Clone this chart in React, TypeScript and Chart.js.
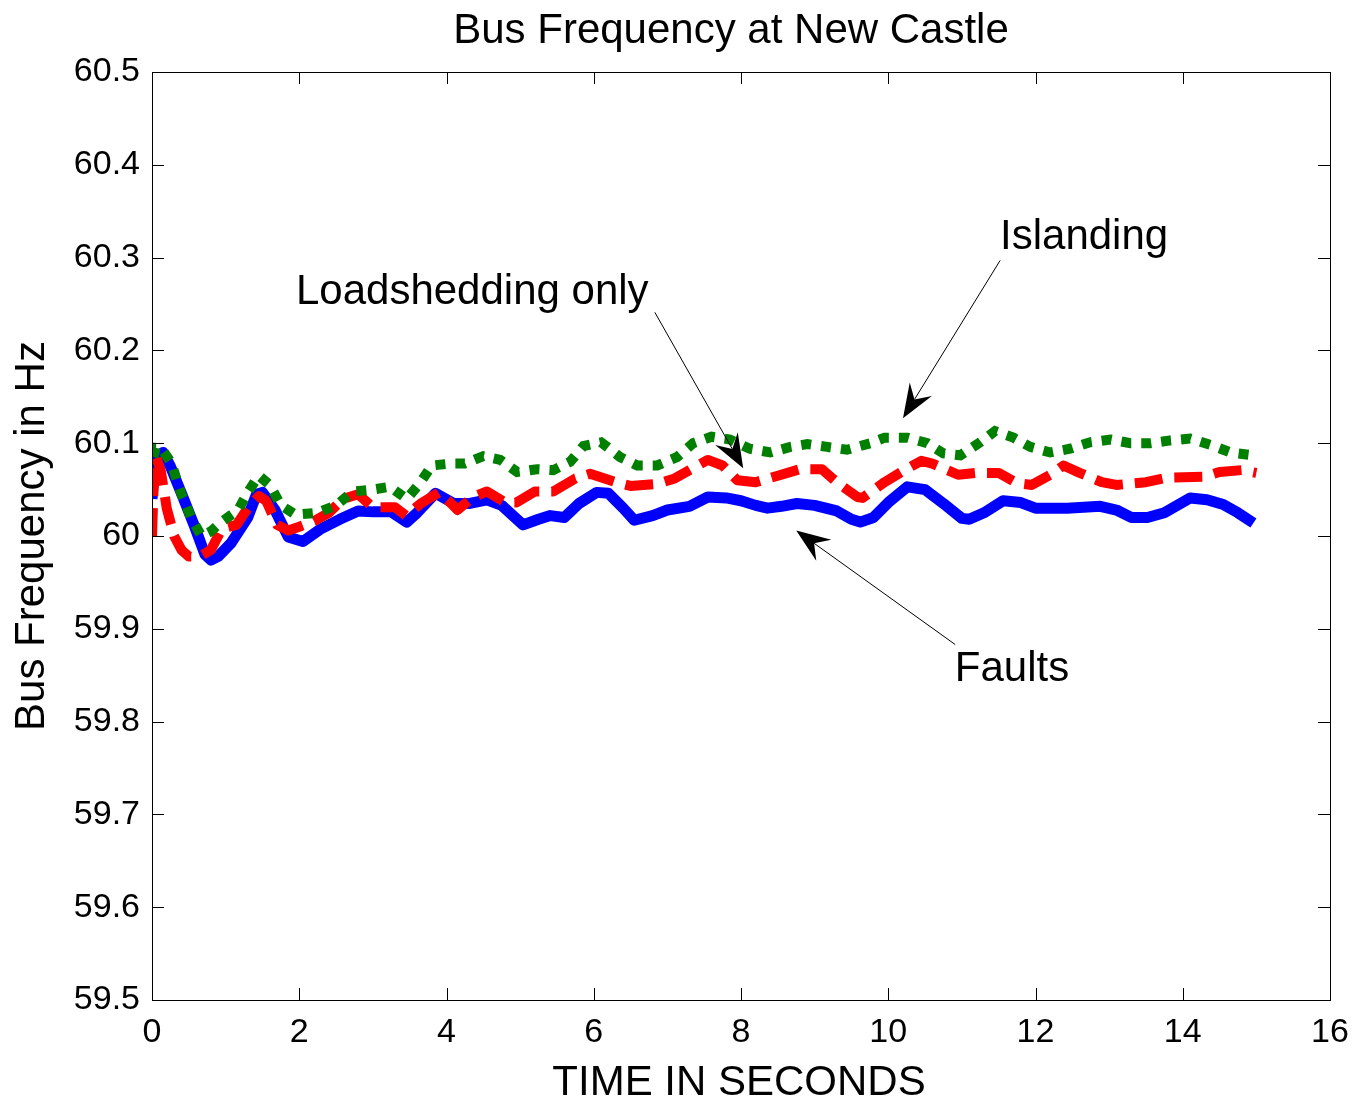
import React, { useEffect, useRef } from "react";
import { Chart, registerables } from "chart.js";

Chart.register(...registerables);

const xTicks = [0, 2, 4, 6, 8, 10, 12, 14, 16];
const yTicks = [59.5, 59.6, 59.7, 59.8, 59.9, 60.0, 60.1, 60.2, 60.3, 60.4, 60.5];

const faultsT = [0, 0.05, 0.15, 0.25, 0.4, 0.58, 0.72, 0.8, 0.9, 1.07, 1.3, 1.42, 1.5, 1.67, 1.85, 2.05, 2.3, 2.55, 2.8, 3.0, 3.25, 3.46, 3.6, 3.85, 4.1, 4.3, 4.55, 4.75, 5.04, 5.25, 5.41, 5.6, 5.8, 6.04, 6.2, 6.4, 6.55, 6.8, 7.0, 7.3, 7.55, 7.8, 8.0, 8.2, 8.36, 8.55, 8.76, 9.0, 9.3, 9.5, 9.62, 9.8, 10.0, 10.26, 10.5, 10.75, 11.0, 11.1, 11.3, 11.56, 11.8, 12.0, 12.43, 12.88, 13.1, 13.3, 13.52, 13.75, 14.1, 14.33, 14.55, 14.75, 14.96];
const faultsF = [60.04, 60.085, 60.09, 60.075, 60.046, 60.01, 59.98, 59.974, 59.978, 59.992, 60.02, 60.045, 60.047, 60.028, 59.999, 59.994, 60.008, 60.018, 60.027, 60.026, 60.026, 60.015, 60.025, 60.046, 60.035, 60.035, 60.039, 60.033, 60.012, 60.018, 60.022, 60.02, 60.035, 60.047, 60.046, 60.03, 60.017, 60.022, 60.028, 60.032, 60.042, 60.041, 60.038, 60.033, 60.03, 60.032, 60.035, 60.033, 60.027, 60.018, 60.015, 60.02, 60.036, 60.053, 60.05, 60.035, 60.019, 60.018, 60.025, 60.038, 60.036, 60.03, 60.03, 60.032, 60.028, 60.02, 60.02, 60.025, 60.041, 60.039, 60.034, 60.025, 60.014];

const loadT = [0, 0.02, 0.06, 0.12, 0.2, 0.3, 0.4, 0.5, 0.65, 0.8, 0.95, 1.15, 1.3, 1.45, 1.55, 1.7, 1.85, 2.0, 2.2, 2.4, 2.6, 2.8, 3.0, 3.3, 3.45, 3.65, 3.9, 4.05, 4.15, 4.36, 4.55, 4.8, 4.95, 5.2, 5.45, 5.75, 5.95, 6.3, 6.5, 6.85, 7.1, 7.3, 7.55, 7.75, 7.95, 8.2, 8.5, 8.8, 9.1, 9.3, 9.58, 9.65, 9.95, 10.2, 10.45, 10.6, 10.95, 11.2, 11.5, 11.75, 11.95, 12.2, 12.38, 12.6, 12.9, 13.1, 13.5, 13.8, 14.3, 14.5, 14.8, 15.0];
const loadF = [60.0, 60.05, 60.085, 60.07, 60.03, 60.0, 59.985, 59.978, 59.978, 59.985, 60.008, 60.012, 60.03, 60.043, 60.038, 60.012, 60.006, 60.01, 60.016, 60.025, 60.04, 60.045, 60.031, 60.031, 60.022, 60.035, 60.047, 60.036, 60.028, 60.042, 60.048, 60.036, 60.036, 60.048, 60.048, 60.062, 60.067, 60.058, 60.054, 60.056, 60.062, 60.071, 60.082, 60.076, 60.06, 60.058, 60.065, 60.072, 60.072, 60.058, 60.042, 60.041, 60.058, 60.07, 60.081, 60.078, 60.066, 60.068, 60.068, 60.057, 60.055, 60.066, 60.076, 60.068, 60.058, 60.055, 60.058, 60.063, 60.064, 60.069, 60.071, 60.068];

const islandT = [0.02, 0.05, 0.12, 0.26, 0.4, 0.53, 0.67, 0.8, 0.94, 1.17, 1.3, 1.45, 1.6, 1.75, 1.95, 2.24, 2.5, 2.73, 3.0, 3.23, 3.46, 3.64, 3.8, 4.05, 4.25, 4.5, 4.73, 4.96, 5.23, 5.45, 5.68, 5.86, 6.1, 6.36, 6.59, 6.86, 7.13, 7.35, 7.6, 7.85, 8.12, 8.4, 8.67, 8.9, 9.17, 9.44, 9.76, 9.95, 10.26, 10.53, 10.75, 10.98, 11.25, 11.45, 11.7, 11.93, 12.2, 12.47, 12.74, 13.02, 13.29, 13.56, 13.83, 14.1, 14.38, 14.65, 14.95];
const islandF = [60.085, 60.095, 60.095, 60.079, 60.045, 60.02, 60.0, 60.005, 60.015, 60.028, 60.047, 60.065, 60.055, 60.033, 60.023, 60.025, 60.033, 60.048, 60.05, 60.053, 60.04, 60.057, 60.076, 60.078, 60.078, 60.086, 60.082, 60.069, 60.072, 60.071, 60.08, 60.097, 60.101, 60.085, 60.076, 60.076, 60.085, 60.1, 60.107, 60.104, 60.094, 60.09, 60.096, 60.099, 60.096, 60.093, 60.1, 60.106, 60.106, 60.1, 60.089, 60.087, 60.101, 60.113, 60.106, 60.096, 60.09, 60.094, 60.101, 60.104, 60.1, 60.1, 60.103, 60.105, 60.098, 60.09, 60.087];

const titleText = "Bus Frequency at New Castle";
const xTitle = "TIME IN SECONDS";
const yTitle = "Bus Frequency in Hz";

// annotation: label, label position (t, f), arrow tail (t, f), arrow head (t, f)
const annLabels = ["Islanding", "Loadshedding only", "Faults"];
const annLabelPos = [[12.66, 60.322], [4.35, 60.263], [11.68, 59.856]];
const annTail = [[11.52, 60.297], [6.83, 60.241], [10.91, 59.883]];
const annHead = [[10.2, 60.127], [8.03, 60.073], [8.75, 60.006]];

const FONT = "'Liberation Sans', Arial, Helvetica, sans-serif";

const zip = (t: number[], f: number[]) => t.map((x, i) => ({ x, y: f[i] }));

const framePlugin = {
  id: "matlabFrame",
  afterDraw(chart: any) {
    const { ctx, chartArea: a, scales } = chart;
    const xs = scales.x, ys = scales.y;
    ctx.save();
    ctx.strokeStyle = "#000";
    ctx.lineWidth = 1;
    ctx.strokeRect(a.left + 0.5, a.top + 0.5, a.right - a.left, a.bottom - a.top);
    const tl = 12;
    ctx.beginPath();
    xTicks.forEach((v) => {
      const px = Math.round(xs.getPixelForValue(v)) + 0.5;
      ctx.moveTo(px, a.bottom); ctx.lineTo(px, a.bottom - tl);
      ctx.moveTo(px, a.top); ctx.lineTo(px, a.top + tl);
    });
    yTicks.forEach((v) => {
      const py = Math.round(ys.getPixelForValue(v)) + 0.5;
      ctx.moveTo(a.left, py); ctx.lineTo(a.left + tl, py);
      ctx.moveTo(a.right, py); ctx.lineTo(a.right - tl, py);
    });
    ctx.stroke();

    // titles
    ctx.fillStyle = "#000";
    ctx.textAlign = "center";
    ctx.textBaseline = "middle";
    ctx.font = `42px ${FONT}`;
    ctx.fillText(titleText, (a.left + a.right) / 2 - 10, 31);
    ctx.fillText(xTitle, (a.left + a.right) / 2 - 2, 1083);
    ctx.save();
    ctx.translate(32, (a.top + a.bottom) / 2);
    ctx.rotate(-Math.PI / 2);
    ctx.fillText(yTitle, 0, 0);
    ctx.restore();

    // annotations
    annLabels.forEach((lab, i) => {
      const lx = xs.getPixelForValue(annLabelPos[i][0]);
      const ly = ys.getPixelForValue(annLabelPos[i][1]);
      ctx.font = `42px ${FONT}`;
      ctx.fillText(lab, lx, ly);
      const tx = xs.getPixelForValue(annTail[i][0]);
      const ty = ys.getPixelForValue(annTail[i][1]);
      const hx = xs.getPixelForValue(annHead[i][0]);
      const hy = ys.getPixelForValue(annHead[i][1]);
      const ang = Math.atan2(hy - ty, hx - tx);
      const L = 34, W = 13, notch = 22;
      const bx = hx - L * Math.cos(ang), by = hy - L * Math.sin(ang);
      const nx = hx - notch * Math.cos(ang), ny = hy - notch * Math.sin(ang);
      ctx.beginPath();
      ctx.moveTo(tx, ty);
      ctx.lineTo(nx, ny);
      ctx.lineWidth = 1;
      ctx.stroke();
      ctx.beginPath();
      ctx.moveTo(hx, hy);
      ctx.lineTo(bx + W * Math.sin(ang), by - W * Math.cos(ang));
      ctx.lineTo(nx, ny);
      ctx.lineTo(bx - W * Math.sin(ang), by + W * Math.cos(ang));
      ctx.closePath();
      ctx.fill();
    });
    ctx.restore();
  },
};

export default function App() {
  const ref = useRef<HTMLCanvasElement | null>(null);
  useEffect(() => {
    if (!ref.current) return;
    const chart = new Chart(ref.current, {
      type: "line",
      data: {
        datasets: [
          {
            label: "Islanding",
            data: zip(islandT, islandF),
            borderColor: "#007f00",
            borderWidth: 10,
            borderDash: [10, 10],
            borderCapStyle: "butt",
            pointRadius: 0,
            tension: 0,
            fill: false,
          },
          {
            label: "Loadshedding only",
            data: zip(loadT, loadF),
            borderColor: "#ff0000",
            borderWidth: 10,
            borderDash: [28, 12],
            borderCapStyle: "butt",
            borderJoinStyle: "round",
            pointRadius: 0,
            tension: 0,
            fill: false,
          },
          {
            label: "Faults",
            data: zip(faultsT, faultsF),
            borderColor: "#0000ff",
            borderWidth: 11,
            borderJoinStyle: "round",
            pointRadius: 0,
            tension: 0,
            fill: false,
          },
        ],
      },
      options: {
        responsive: false,
        animation: false,
        events: [],
        layout: { padding: { top: 72, right: 31, left: 0, bottom: 0 } },
        plugins: { legend: { display: false }, tooltip: { enabled: false }, title: { display: false } },
        scales: {
          x: {
            type: "linear",
            min: 0,
            max: 16,
            afterFit: (s: any) => { s.height = 113; },
            afterBuildTicks: (s: any) => { s.ticks = xTicks.map((v) => ({ value: v })); },
            grid: { display: false, drawTicks: false },
            border: { display: false },
            ticks: {
              color: "#000",
              font: { family: FONT, size: 34 },
              padding: 12,
              maxRotation: 0,
              autoSkip: false,
            },
          },
          y: {
            type: "linear",
            min: 59.5,
            max: 60.5,
            afterFit: (s: any) => { s.width = 152; },
            afterBuildTicks: (s: any) => { s.ticks = yTicks.map((v) => ({ value: v })); },
            grid: { display: false, drawTicks: false },
            border: { display: false },
            ticks: {
              color: "#000",
              font: { family: FONT, size: 34 },
              padding: 12,
              autoSkip: false,
              callback: (v: any) => String(Number(Number(v).toFixed(1))),
            },
          },
        },
      },
      plugins: [framePlugin],
    } as any);
    return () => chart.destroy();
  }, []);
  return (
    <div style={{ position: "fixed", left: 0, top: 0, width: 1361, height: 1113, background: "#fff" }}>
      <canvas ref={ref} width={1361} height={1113} style={{ display: "block" }} />
    </div>
  );
}
